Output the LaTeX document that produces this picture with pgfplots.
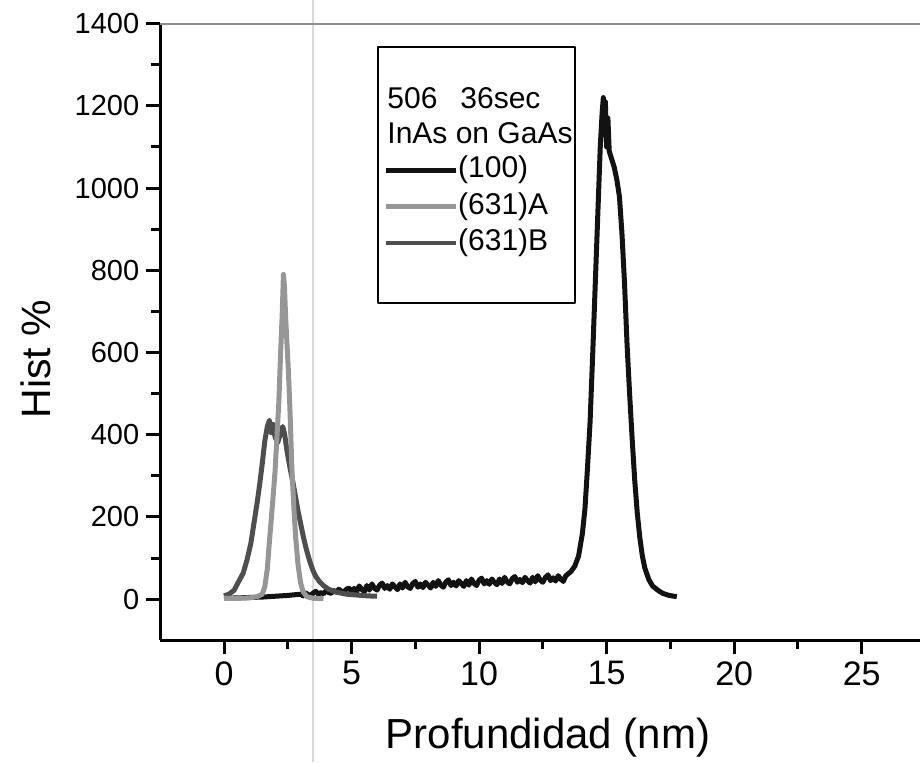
\documentclass[border=0pt]{standalone}
\usepackage{pgfplots}
\pgfplotsset{compat=1.18}
\usepackage{fontspec}
\setmainfont{Liberation Sans}
\definecolor{lgray}{RGB}{150,150,150}
\definecolor{dgray}{RGB}{78,78,78}
\definecolor{nearblack}{RGB}{18,18,18}

\begin{document}
\begin{tikzpicture}
\draw[black!15, line width=0.6bp] (76.4bp,-60.95bp) -- (76.4bp,320.05bp);
\begin{axis}[
  at={(0,0)}, anchor=south west,
  scale only axis, width=380bp, height=308.25bp,
  xmin=-2.5, xmax=27.3, ymin=-100, ymax=1400,
  axis x line*=bottom, axis y line*=left,
  axis line style={line width=1.5bp, -},
  xtick={0,5,10,15,20,25}, ytick={0,200,...,1400},
  minor x tick num=1, minor y tick num=1,
  tick align=outside,
  major tick length=7bp, minor tick length=4.5bp,
  every tick/.style={line width=1.5bp, black},
  /pgf/number format/assume math mode=true,
  /pgf/number format/1000 sep={},
  x tick label style={font=\fontsize{17bp}{17bp}\selectfont},
  y tick label style={font=\fontsize{14.5bp}{14.5bp}\selectfont},
  xlabel={Profundidad (nm)}, ylabel={Hist \%},
  xlabel style={font=\fontsize{21bp}{21bp}\selectfont, at={(axis description cs:0.510,-0.175)}, anchor=base},
  ylabel style={font=\fontsize{20.5bp}{20.5bp}\selectfont, at={(axis description cs:-0.1447,0.456)}, anchor=base},
  legend style={at={(axis cs:6.24,1079)}, anchor=north west, draw=none, fill=none,
    inner sep=0pt, outer sep=0pt, font=\fontsize{15bp}{15bp}\selectfont,
    nodes={inner sep=0pt, text height=11bp, text depth=3.5bp},
    row sep=3.75bp, column sep=0bp},
  legend cell align=left,
  legend image code/.code={\draw[#1] (0bp,0bp) -- (35bp,0bp);},
  line join=round,
]
\addplot[nearblack, line width=2.5bp, forget plot] coordinates {
(0.0,2) (0.5,3) (1.0,4) (1.5,5) (2.0,7) (2.5,9)
(3.0,12) (3.1,8) (3.2,15) (3.3,11) (3.4,9) (3.5,15) (3.6,19) (3.7,12) (3.8,16) (3.9,13)
(4.0,20) (4.1,16) (4.2,14) (4.3,21) (4.4,17) (4.5,24) (4.6,19) (4.7,18) (4.8,24) (4.9,27)
(5.0,19) (5.1,26) (5.2,18) (5.3,32) (5.4,24) (5.5,18) (5.6,33) (5.7,22) (5.8,37) (5.9,26)
(6.0,22) (6.1,34) (6.2,39) (6.3,26) (6.4,33) (6.5,24) (6.6,37) (6.7,30) (6.8,23) (6.9,37)
(7.0,27) (7.1,41) (7.2,30) (7.3,26) (7.4,38) (7.5,43) (7.6,29) (7.7,37) (7.8,28) (7.9,41)
(8.0,34) (8.1,27) (8.2,41) (8.3,31) (8.4,45) (8.5,34) (8.6,29) (8.7,42) (8.8,47) (8.9,33)
(9.0,41) (9.1,32) (9.2,45) (9.3,38) (9.4,31) (9.5,45) (9.6,34) (9.7,49) (9.8,38) (9.9,33)
(10.0,46) (10.1,51) (10.2,37) (10.3,45) (10.4,36) (10.5,49) (10.6,41) (10.7,35) (10.8,49) (10.9,38)
(11.0,53) (11.1,42) (11.2,37) (11.3,50) (11.4,55) (11.5,41) (11.6,48) (11.7,40) (11.8,53) (11.9,45)
(12.0,39) (12.1,53) (12.2,42) (12.3,57) (12.4,46) (12.5,41) (12.6,53) (12.7,59) (12.8,45) (12.9,52)
(13.0,44) (13.1,57) (13.2,49) (13.3,43) (13.4,57) (13.5,62) (13.6,67) (13.75,80) (13.9,105) (14.05,160)
(14.15,220) (14.25,320) (14.35,430) (14.45,590) (14.55,760) (14.65,930) (14.75,1100) (14.82,1180) (14.87,1220) (14.9,1130)
(14.95,1210) (15.0,1100) (15.05,1170) (15.1,1090) (15.2,1070) (15.3,1050) (15.4,1020) (15.5,980) (15.6,890) (15.7,770)
(15.8,620) (15.9,500) (16.0,390) (16.1,290) (16.2,210) (16.3,150) (16.4,105) (16.5,75) (16.65,48) (16.8,32)
(17.0,22) (17.2,14) (17.45,9) (17.75,6)
};
\addplot[dgray, line width=2.5bp, forget plot] coordinates {
(0.0,8) (0.2,12) (0.4,22) (0.55,40) (0.75,63) (0.9,95) (1.05,135) (1.2,195) (1.3,235) (1.4,280)
(1.5,330) (1.6,385) (1.7,420) (1.78,435) (1.85,405) (1.92,425) (2.0,395) (2.1,380) (2.2,400) (2.3,420)
(2.38,400) (2.47,360) (2.6,315) (2.7,285) (2.8,250) (2.9,215) (3.0,185) (3.1,155) (3.2,128) (3.3,105)
(3.4,85) (3.5,68) (3.6,55) (3.75,42) (3.9,33) (4.1,24) (4.4,17) (4.8,12) (5.2,10) (5.6,8) (6.0,7)
};
\addplot[lgray, line width=2.5bp, forget plot] coordinates {
(0.0,2) (0.5,2) (1.0,3) (1.3,6) (1.5,12) (1.6,30) (1.7,75) (1.78,140) (1.9,230) (2.0,310)
(2.08,400) (2.15,480) (2.22,600) (2.28,690) (2.33,790) (2.37,760) (2.42,680) (2.47,620) (2.52,560) (2.58,470)
(2.66,320) (2.74,220) (2.81,150) (2.9,85) (3.0,40) (3.1,18) (3.25,6) (3.5,2) (3.9,1)
};
\addlegendimage{nearblack, line width=2.5bp}
\addlegendentry{(100)}
\addlegendimage{lgray, line width=2.5bp}
\addlegendentry{(631)A}
\addlegendimage{dgray, line width=1.8bp}
\addlegendentry{(631)B}
\draw[black!45, line width=1bp] (rel axis cs:0,1) -- (rel axis cs:1,1);
\draw[black, line width=1bp] (axis cs:6.04,1343) rectangle (axis cs:13.76,720);
\node[anchor=west, inner sep=0pt, font=\fontsize{15bp}{15bp}\selectfont] at (axis cs:6.39,1219) {506\hspace{11.5bp}36sec};
\node[anchor=west, inner sep=0pt, font=\fontsize{15bp}{15bp}\selectfont] at (axis cs:6.39,1134) {InAs on GaAs};
\end{axis}
\pgfresetboundingbox
\path (-80.1bp,-60.95bp) rectangle (379.8bp,320.05bp);
\end{tikzpicture}
\end{document}
